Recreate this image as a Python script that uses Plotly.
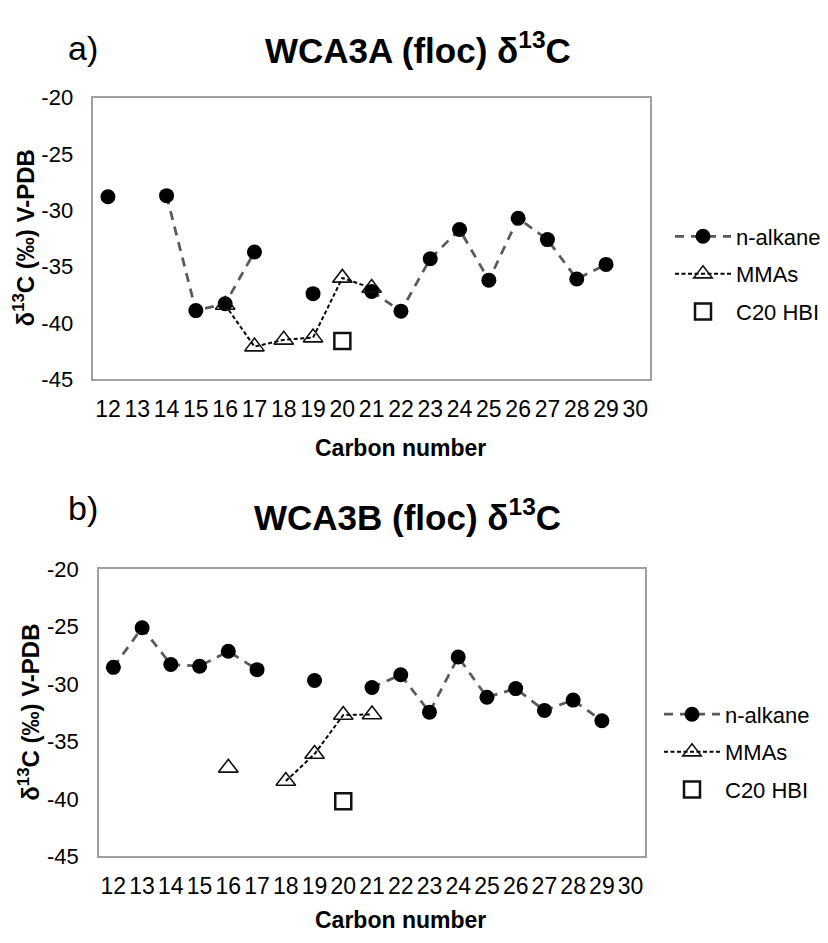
import plotly.graph_objects as go

carbon = list(range(12, 31))
tick_labels = [str(c) for c in carbon]

# Panel a) WCA3A (floc)
a_alkane = [-28.8, None, -28.7, -38.9, -38.3, -33.7, None, -37.4, None, -37.2,
            -38.95, -34.3, -31.7, -36.2, -30.7, -32.6, -36.1, -34.8, None]
a_mma = [None, None, None, None, -38.4, -42.1, -41.5, -41.3, -36.0, -36.9,
         None, None, None, None, None, None, None, None, None]
a_hbi = [None, None, None, None, None, None, None, None, -41.6, None,
         None, None, None, None, None, None, None, None, None]

# Panel b) WCA3B (floc)
b_alkane = [-28.55, -25.1, -28.3, -28.45, -27.15, -28.75, None, -29.7, None, -30.3,
            -29.2, -32.45, -27.65, -31.15, -30.4, -32.3, -31.4, -33.2, None]
b_mma = [None, None, None, None, -37.3, None, -38.45, -36.1, -32.7, -32.65,
         None, None, None, None, None, None, None, None, None]
b_hbi = [None, None, None, None, None, None, None, None, -40.2, None,
         None, None, None, None, None, None, None, None, None]

series_names = ["n-alkane", "MMAs", "C20 HBI"]
y_ticks = [-45, -40, -35, -30, -25, -20]

W, H = 828, 943
FONT = "Liberation Sans, Arial, sans-serif"


def xp(px):
    return px / W


def yp(py):
    return 1 - py / H


fig = go.Figure()


def add_panel(alk, mma, hbi, xa, ya, legend):
    fig.add_trace(go.Scatter(
        x=carbon, y=alk, name=series_names[0], mode="lines+markers",
        xaxis=xa, yaxis=ya, legend=legend, legendgroup=legend + "1",
        line=dict(color="#5a5a5a", width=2.75, dash="9px,7px"),
        marker=dict(symbol="circle", size=15, color="black"),
    ))
    fig.add_trace(go.Scatter(
        x=carbon, y=mma, name=series_names[1], mode="lines+markers",
        xaxis=xa, yaxis=ya, legend=legend, legendgroup=legend + "2",
        line=dict(color="#000000", width=2, dash="4px,2.5px"),
        marker=dict(symbol="triangle-up-open", size=17, color="#111111",
                    line=dict(color="#111111", width=1.6)),
    ))
    fig.add_trace(go.Scatter(
        x=carbon, y=hbi, name=series_names[2], mode="markers",
        xaxis=xa, yaxis=ya, legend=legend, legendgroup=legend + "3",
        marker=dict(symbol="square-open", size=16, color="#111111",
                    line=dict(color="#111111", width=2.5)),
    ))


add_panel(a_alkane, a_mma, a_hbi, "x", "y", "legend")
add_panel(b_alkane, b_mma, b_hbi, "x2", "y2", "legend2")

axis_common = dict(
    showline=True, linecolor="#a0a0a0", linewidth=1.5, mirror=True,
    showgrid=False, zeroline=False,
    ticks="outside", tickcolor="rgba(0,0,0,0)",
)

xcommon = dict(axis_common, tickmode="array", tickvals=carbon, ticktext=tick_labels,
               range=[11.5, 30.5], ticklen=8,
               tickfont=dict(family=FONT, size=23, color="black"))
ycommon = dict(axis_common, tickmode="array", tickvals=y_ticks,
               ticktext=[str(v) for v in y_ticks], range=[-45, -20], ticklen=14,
               tickfont=dict(family=FONT, size=22, color="black"))

legend_common = dict(xanchor="left", yanchor="top",
                     font=dict(family=FONT, size=22, color="black"),
                     bgcolor="rgba(0,0,0,0)", itemwidth=56, tracegroupgap=6,
                     traceorder="grouped")

fig.update_layout(
    width=W, height=H,
    margin=dict(l=0, r=0, t=0, b=0),
    paper_bgcolor="white", plot_bgcolor="white",
    xaxis=dict(xcommon, domain=[xp(93.3), xp(650)], anchor="y"),
    yaxis=dict(ycommon, domain=[yp(377.3), yp(88)], anchor="x"),
    xaxis2=dict(xcommon, domain=[xp(99), xp(645)], anchor="y2"),
    yaxis2=dict(ycommon, domain=[yp(867.3), yp(572.3)], anchor="x2"),
    legend=dict(legend_common, x=xp(670), y=yp(209)),
    legend2=dict(legend_common, x=xp(659), y=yp(700)),
)

ann = []
# panel letters and titles
ann.append(dict(text="a)", x=xp(66), y=yp(37), xanchor="left", yanchor="middle",
                font=dict(family=FONT, size=34, color="black")))
ann.append(dict(text="<b>WCA3A (floc) δ<sup>13</sup>C</b>", x=xp(418), y=yp(37),
                xanchor="center", yanchor="middle",
                font=dict(family=FONT, size=35, color="black")))
ann.append(dict(text="b)", x=xp(66), y=yp(510), xanchor="left", yanchor="middle",
                font=dict(family=FONT, size=34, color="black")))
ann.append(dict(text="<b>WCA3B (floc) δ<sup>13</sup>C</b>", x=xp(407), y=yp(517),
                xanchor="center", yanchor="middle",
                font=dict(family=FONT, size=35, color="black")))
# axis titles
for yc, ytitle_x in [(232.6, 24), (719.8, 29)]:
    ann.append(dict(text="<b>δ<sup>13</sup>C (‰) V-PDB</b>", x=xp(ytitle_x), y=yp(yc),
                    xanchor="center", yanchor="middle", textangle=-90,
                    font=dict(family=FONT, size=24, color="black")))
for yc in [448, 933]:
    ann.append(dict(text="<b>Carbon number</b>", x=xp(400), y=yp(yc),
                    xanchor="center", yanchor="middle",
                    font=dict(family=FONT, size=23, color="black")))

for a in ann:
    a.update(xref="paper", yref="paper", showarrow=False)
fig.update_layout(annotations=ann)

fig.write_html("out.html")
